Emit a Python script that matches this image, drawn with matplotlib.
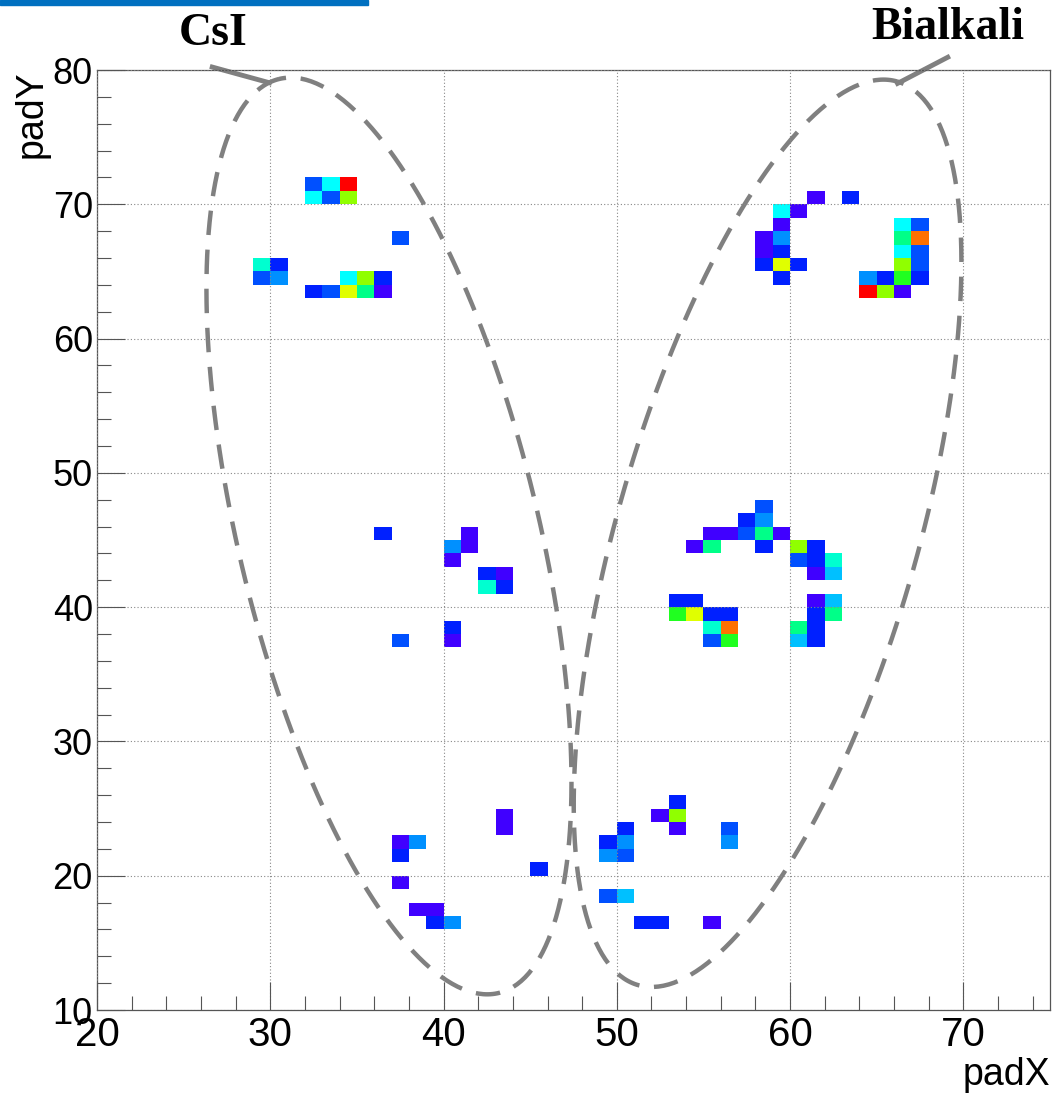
import numpy as np
import matplotlib
matplotlib.use("Agg")
import matplotlib.pyplot as plt
from matplotlib.colors import ListedColormap, BoundaryNorm

# pad hits: column, row, colour level
pad_x = [32, 33, 34, 32, 33, 34, 37, 29, 30, 29, 30, 34, 35, 36, 32, 33, 34, 35, 36,
         61, 63, 59, 60, 59, 66, 67, 58, 59, 66, 67, 58, 59, 66, 67,
         58, 59, 60, 66, 67, 59, 64, 65, 66, 67, 64, 65, 66,
         36, 41, 41, 40, 40, 42, 43, 42, 43, 40, 40, 37,
         58, 57, 58, 55, 56, 57, 58, 59, 54, 55, 58, 60, 61, 60, 61, 62, 61, 62,
         53, 54, 61, 62, 53, 54, 55, 56, 61, 62, 55, 56, 60, 61, 55, 56, 60, 61,
         43, 43, 45, 50, 50, 50, 49, 49, 53, 53, 53, 52, 56, 56,
         49, 50, 51, 52, 55, 37, 38, 37, 37, 38, 39, 39, 40]
pad_y = [71, 71, 71, 70, 70, 70, 67, 65, 65, 64, 64, 64, 64, 64, 63, 63, 63, 63, 63,
         70, 70, 69, 69, 68, 68, 68, 67, 67, 67, 67, 66, 66, 66, 66,
         65, 65, 65, 65, 65, 64, 64, 64, 64, 64, 63, 63, 63,
         45, 45, 44, 44, 43, 42, 42, 41, 41, 38, 37, 37,
         47, 46, 46, 45, 45, 45, 45, 45, 44, 44, 44, 44, 44, 43, 43, 43, 42, 42,
         40, 40, 40, 40, 39, 39, 39, 39, 39, 39, 38, 38, 38, 38, 37, 37, 37, 37,
         24, 23, 20, 23, 22, 21, 22, 21, 25, 24, 23, 24, 23, 22,
         18, 18, 16, 16, 16, 22, 22, 21, 19, 17, 17, 16, 16]
counts = [3, 6, 13, 6, 3, 10, 3, 7, 2, 3, 4, 6, 10, 2, 2, 3, 11, 8, 1,
          1, 2, 6, 1, 1, 6, 3, 1, 4, 8, 12, 1, 2, 6, 3,
          2, 11, 2, 10, 3, 2, 4, 2, 9, 2, 13, 10, 1,
          2, 1, 1, 4, 1, 2, 1, 7, 2, 2, 1, 3,
          3, 2, 4, 1, 1, 3, 8, 1, 1, 8, 2, 10, 2, 3, 2, 7, 1, 5,
          2, 2, 1, 5, 9, 11, 2, 2, 2, 8, 7, 12, 8, 2, 3, 9, 5, 2,
          1, 1, 2, 2, 4, 3, 2, 4, 2, 10, 1, 1, 3, 4,
          3, 5, 2, 2, 1, 1, 4, 2, 1, 1, 1, 2, 4]

x_edges = np.arange(20, 76, 1)
y_edges = np.arange(10, 81, 1)

palette = ["#4000ff", "#0020ff", "#0050ff", "#0090ff", "#00c0ff", "#00ffff",
           "#00ffd0", "#00ff88", "#20ff20", "#90ff00", "#e0ff00", "#ff7000", "#ff0000"]
cmap = ListedColormap(palette)
norm = BoundaryNorm(np.arange(0.5, len(palette) + 1.5, 1), len(palette))

W, H = 1053, 1094
fig = plt.figure(figsize=(W / 100, H / 100), dpi=100)
ax_l, ax_r, ax_t, ax_b = 97, 1050, 70, 1010
ax = fig.add_axes([ax_l / W, 1 - ax_b / H, (ax_r - ax_l) / W, (ax_b - ax_t) / H])

ax.hist2d(pad_x, pad_y, bins=[x_edges, y_edges], weights=counts,
          cmap=cmap, norm=norm, cmin=0.5)

ax.set_xlim(20, 75)
ax.set_ylim(10, 80)
ax.set_xticks(np.arange(20, 71, 10))
ax.set_yticks(np.arange(10, 81, 10))
ax.set_xticks(np.arange(20, 76, 2), minor=True)
ax.set_yticks(np.arange(10, 81, 2), minor=True)
ax.grid(True, which="major", color="#888888", linestyle=(0, (1, 2)), linewidth=0.8)
ax.set_axisbelow(False)
ax.tick_params(which="both", direction="in", color="#555555", width=0.8,
               top=False, right=False)
ax.tick_params(which="major", length=20)
ax.tick_params(which="minor", length=10)
ax.tick_params(axis="x", labelsize=29, pad=4)
ax.tick_params(axis="y", labelsize=26, pad=3)
for lab in ax.get_xticklabels() + ax.get_yticklabels():
    lab.set_family("Liberation Sans")
for sp in ax.spines.values():
    sp.set_color("#555555")
    sp.set_linewidth(0.9)

# dashed outlines around the two photocathode regions
sx = (ax_r - ax_l) / 55.0
sy = (ax_b - ax_t) / 70.0


def tilted_ellipse(cx, cy, a_px, b_px, angle_deg):
    t = np.linspace(0, 2 * np.pi, 400)
    th = np.radians(angle_deg)
    u = a_px * np.cos(t)
    v = b_px * np.sin(t)
    dx = u * np.cos(th) - v * np.sin(th)
    dy = u * np.sin(th) + v * np.cos(th)
    ax.plot(cx + dx / sx, cy + dy / sy, color="#808080", lw=3.2,
            linestyle=(0, (5.5, 3.3)), clip_on=False, solid_capstyle="butt")


tilted_ellipse(36.85, 45.3, 470, 150, 103.5)
tilted_ellipse(58.7, 45.5, 470, 150, 74.0)

# leader lines to the labels
ax.plot([26.65, 29.95], [80.22, 79.05], color="#808080", lw=3.5, clip_on=False)
ax.plot([69.1, 66.2], [80.95, 79.0], color="#808080", lw=3.5, clip_on=False)

fig.text(213 / W, 1 - 45 / H, "CsI", family="Liberation Serif", weight="bold",
         fontsize=33, ha="center", va="baseline")
fig.text(948 / W, 1 - 39 / H, "Bialkali", family="Liberation Serif", weight="bold",
         fontsize=33, ha="center", va="baseline")

fig.text(1050 / W, 1 - 1093 / H, "padX", family="Liberation Sans", fontsize=27,
         ha="right", va="bottom")
fig.text(32 / W, 1 - 70 / H, "padY", family="Liberation Sans", fontsize=27,
         rotation=90, ha="center", va="top")

# header bar
fig.patches.append(plt.Rectangle((0, 1 - 5 / H), 368 / W, 5 / H,
                                 transform=fig.transFigure, color="#0070c0"))

fig.savefig("out.png", dpi=100)
